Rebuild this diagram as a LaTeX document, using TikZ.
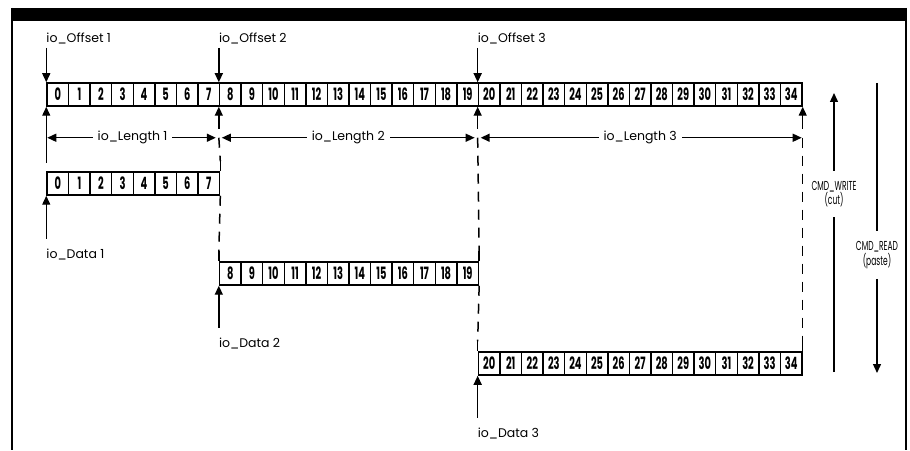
\documentclass[tikz,border=0pt]{standalone}
\usepackage{fontspec}
\usepackage{tikz}
\usetikzlibrary{arrows.meta,positioning}
\newfontfamily\lblfont{Poppins}
\newfontfamily\numfont[FakeStretch=0.58]{Poppins}

\tikzset{
cell/.style={draw,line width=1.5pt,minimum width=21.57pt,minimum height=23pt,inner sep=0pt,
  font=\numfont\bfseries\fontsize{17}{17}\selectfont},
lbl/.style={inner sep=0pt,font=\lblfont\fontsize{12.5}{14}\selectfont},
lenlbl/.style={fill=white,inner xsep=5pt,inner ysep=2pt,font=\lblfont\fontsize{12.5}{14}\selectfont},
cmd/.style={fill=white,align=center,inner xsep=2pt,inner ysep=10pt,
  font=\numfont\fontsize{13}{12}\selectfont},
arr/.style={line width=1.4pt,-{Triangle[length=9pt,width=8pt]}},
dbl/.style={line width=1.4pt,{Triangle[length=9pt,width=8pt]}-{Triangle[length=9pt,width=8pt]}},
dashln/.style={line width=1.5pt,dash pattern=on 10pt off 8pt},
tick/.style={line width=1.5pt}
}

\begin{document}
\begin{tikzpicture}[x=1pt,y=1pt]
\useasboundingbox (0,0) rectangle (910,450);
\fill[white] (0,0) rectangle (910,450);
\fill (12,429) rectangle (906,442);
\draw[line width=1.6pt] (12,442)--(12,0) (906,442)--(906,0);
% buffers
\foreach \i in {0,...,34} \node[cell] (t\i) at ({57.8+21.57*\i},355.5) {\i};
\foreach \i in {0,...,7} \node[cell] (a\i) at ({57.8+21.57*\i},266.5) {\i};
\foreach \i in {8,...,19} \node[cell] (b\i) at ({57.8+21.57*\i},176.5) {\i};
\foreach \i in {20,...,34} \node[cell] (c\i) at ({57.8+21.57*\i},86.5) {\i};
% offsets
\node[lbl,anchor=base west] (off1) at ([yshift=40pt]t0.north west) {io\_Offset 1};
\node[lbl,anchor=base west] (off2) at ([yshift=40pt]t8.north west) {io\_Offset 2};
\node[lbl,anchor=base west] (off3) at ([yshift=40pt]t20.north west) {io\_Offset 3};
\draw[arr] ([yshift=-4pt]off1.south west) -- (t0.north west);
\draw[arr] ([yshift=-4pt]off2.south west) -- (t8.north west);
\draw[arr] ([yshift=-4pt]off3.south west) -- (t20.north west);
\draw[arr] ([yshift=-56pt]t0.south west) -- (t0.south west);
\draw[arr] ([yshift=-22pt]t8.south west) -- (t8.south west);
\draw[arr] ([yshift=-22pt]t20.south west) -- (t20.south west);
\draw[arr] ([yshift=-22pt]t34.south east) -- (t34.south east);
% lengths
\coordinate (m0) at ([yshift=-31pt]t0.south west);
\coordinate (m1) at ([yshift=-31pt]t8.south west);
\coordinate (m2) at ([yshift=-31pt]t20.south west);
\coordinate (m3) at ([yshift=-31pt]t34.south east);
\draw[dbl,shorten <=1pt,shorten >=3pt] (m0) -- node[lenlbl] {io\_Length 1} (m1);
\draw[dbl,shorten <=3pt,shorten >=3pt] (m1) -- node[lenlbl] {io\_Length 2} (m2);
\draw[dbl,shorten <=3pt,shorten >=1pt] (m2) -- node[lenlbl] {io\_Length 3} (m3);
\foreach \p/\q in {m1/a7.north east,a7.south east/b8.north west,m2/b19.north east,
  b19.south east/c20.north west,m3/c34.north east}{
  \draw[dashln] (\p) -- ([yshift=10pt]\q);
  \draw[tick] ([yshift=10pt]\q) -- (\q);
}
% data
\node[lbl,anchor=base west] (dat1) at ([yshift=-63pt]a0.south west) {io\_Data 1};
\node[lbl,anchor=base west] (dat2) at ([yshift=-62pt]b8.south west) {io\_Data 2};
\node[lbl,anchor=base west] (dat3) at ([yshift=-62pt]c20.south west) {io\_Data 3};
\draw[arr] ([yshift=20pt]dat1.base west) -- (a0.south west);
\draw[arr] ([yshift=20pt]dat2.base west) -- (b8.south west);
\draw[arr] ([yshift=20pt]dat3.base west) -- (c20.south west);
% commands
\coordinate (wtop) at (834,357);
\coordinate (wbot) at (834,78);
\coordinate (rtop) at (877,367);
\coordinate (rbot) at (877,77);
\node[cmd] (wr) at (834,256) {CMD\_WRITE\\(cut)};
\node[cmd] (rd) at (877,195) {CMD\_READ\\(paste)};
\draw[tick] (wbot) -- (wr.south);
\draw[arr] (wr.north) -- (wtop);
\draw[tick] (rtop) -- (rd.north);
\draw[arr] (rd.south) -- (rbot);
\end{tikzpicture}
\end{document}
